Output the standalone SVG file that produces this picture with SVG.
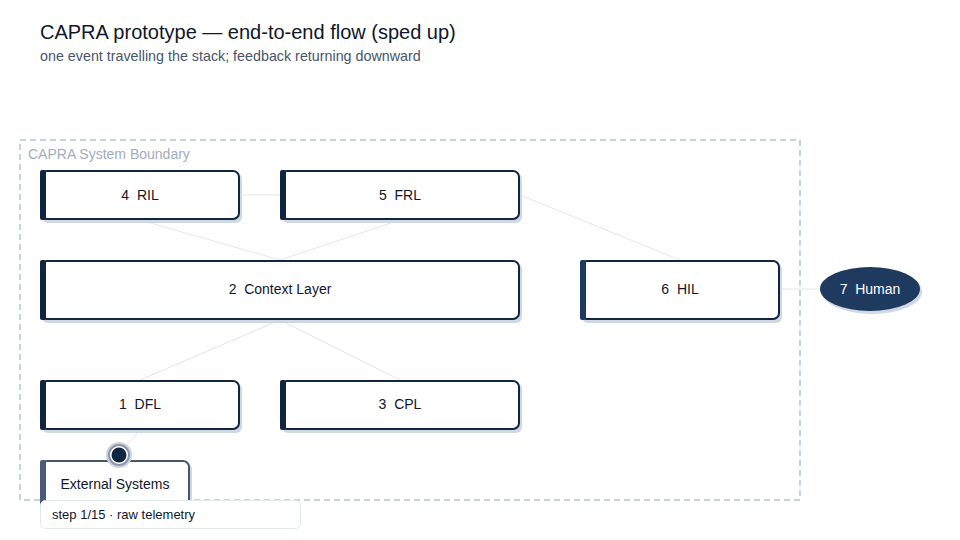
<svg xmlns="http://www.w3.org/2000/svg" width="960" height="540" viewBox="0 0 960 540">
<style>
text{font-family:"Liberation Sans",Arial,sans-serif;white-space:pre}
.title{font-size:20px;fill:#0f172a}
.sub{font-size:14.3px;fill:#475569}
.lbl{font-size:14px;fill:#0f172a;text-anchor:middle}
.shadow{fill:#cfd8e3}
.box{fill:#fff;stroke:#0f2540;stroke-width:2}
.bar{fill:#0f2540}
.conn{stroke:#e2e5ec;stroke-width:1;fill:none}
</style>
<rect width="960" height="540" fill="#fff"/>
<text class="title" x="40" y="39">CAPRA prototype — end-to-end flow (sped up)</text>
<text class="sub" x="40" y="61">one event travelling the stack; feedback returning downward</text>
<g id="boundary">
<rect x="20" y="140" width="780" height="360" fill="none" stroke="#94a3b8" stroke-width="1" stroke-dasharray="6 4"/>
<text x="28" y="159" font-size="14" fill="#a3adbb">CAPRA System Boundary</text>
</g>
<g id="connectors">
<line class="conn" x1="240" y1="195" x2="280" y2="195"/>
<line class="conn" x1="140" y1="220" x2="280" y2="260"/>
<line class="conn" x1="400" y1="220" x2="280" y2="260"/>
<line class="conn" x1="280" y1="320" x2="140" y2="380"/>
<line class="conn" x1="280" y1="320" x2="400" y2="380"/>
<line class="conn" x1="520" y1="195" x2="680" y2="260"/>
<line class="conn" x1="780" y1="289" x2="820" y2="289"/>
<line class="conn" x1="140" y1="430" x2="119" y2="455"/>
</g>
<g id="n4">
<rect class="shadow" x="42" y="173" width="200" height="50" rx="6"/>
<rect class="box" x="41" y="171" width="198" height="48" rx="6"/>
<rect class="bar" x="40" y="170" width="6" height="50" rx="2"/>
<text class="lbl" x="140" y="200" xml:space="preserve">4  RIL</text>
</g>
<g id="n5">
<rect class="shadow" x="282" y="173" width="240" height="50" rx="6"/>
<rect class="box" x="281" y="171" width="238" height="48" rx="6"/>
<rect class="bar" x="280" y="170" width="6" height="50" rx="2"/>
<text class="lbl" x="400" y="200" xml:space="preserve">5  FRL</text>
</g>
<g id="n2">
<rect class="shadow" x="42" y="263" width="480" height="60" rx="6"/>
<rect class="box" x="41" y="261" width="478" height="58" rx="6"/>
<rect class="bar" x="40" y="260" width="6" height="60" rx="2"/>
<text class="lbl" x="280" y="294" xml:space="preserve">2  Context Layer</text>
</g>
<g id="n6">
<rect class="shadow" x="582" y="263" width="200" height="60" rx="6"/>
<rect class="box" x="581" y="261" width="198" height="58" rx="6" stroke="#1e3a5f"/>
<rect x="580" y="260" width="6" height="60" rx="2" fill="#1e3a5f"/>
<text class="lbl" x="680" y="294" xml:space="preserve">6  HIL</text>
</g>
<g id="n7">
<ellipse cx="872" cy="292" rx="50" ry="22" fill="#cfd8e3"/>
<ellipse cx="870" cy="289" rx="50" ry="22" fill="#1e3a5f"/>
<text class="lbl" x="870" y="294" style="fill:#fff" xml:space="preserve">7  Human</text>
</g>
<g id="n1">
<rect class="shadow" x="42" y="383" width="200" height="50" rx="6"/>
<rect class="box" x="41" y="381" width="198" height="48" rx="6"/>
<rect class="bar" x="40" y="380" width="6" height="50" rx="2"/>
<text class="lbl" x="140" y="409" xml:space="preserve">1  DFL</text>
</g>
<g id="n3">
<rect class="shadow" x="282" y="383" width="240" height="50" rx="6"/>
<rect class="box" x="281" y="381" width="238" height="48" rx="6"/>
<rect class="bar" x="280" y="380" width="6" height="50" rx="2"/>
<text class="lbl" x="400" y="409" xml:space="preserve">3  CPL</text>
</g>
<g id="ext">
<rect class="shadow" x="42" y="463" width="150" height="50" rx="6"/>
<rect x="41" y="461" width="148" height="48" rx="6" fill="#fff" stroke="#475569" stroke-width="2"/>
<rect x="40" y="460" width="6" height="50" rx="2" fill="#4a5a78"/>
<text class="lbl" x="115" y="489">External Systems</text>
</g>
<g id="token">
<circle cx="119" cy="455" r="13" fill="#cbd3de"/>
<circle cx="119" cy="455" r="11" fill="#8b98aa"/>
<circle cx="119" cy="455" r="9" fill="#fff"/>
<circle cx="119" cy="455" r="7.5" fill="#0f2540"/>
</g>
<g id="step">
<rect x="40.5" y="500.5" width="260" height="28" rx="5" fill="#fff" stroke="#e2e8f0"/>
<text x="52" y="519" font-size="13" fill="#0f172a">step 1/15 · raw telemetry</text>
</g>
</svg>
